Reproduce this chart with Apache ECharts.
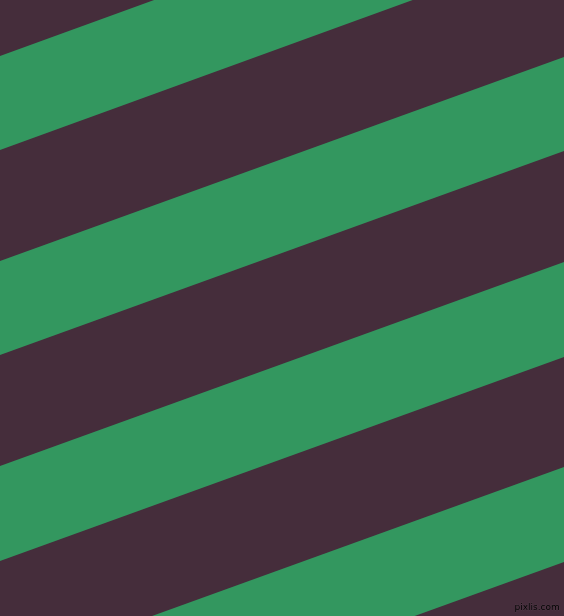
<!DOCTYPE html>
<html>
<head>
<meta charset="utf-8">
<script src="https://cdn.jsdelivr.net/npm/echarts@6/dist/echarts.min.js"></script>
<style>
html,body{margin:0;padding:0;background:#452D3B;}
#chart{width:564px;height:616px;}
</style>
</head>
<body>
<div id="chart"></div>
<script>
// Green stripes: y of each edge at the left (x=0) and right (x=564) sides
const leftTop     = [56, 261, 466, 671];
const leftBottom  = [150, 355, 561, 766];
const rightTop    = [-149, 57, 262, 467];
const rightBottom = [-55, 151, 357, 562];
const xLeft = 0, xRight = 564;
const watermark = 'pixlis.com';

const stripes = leftTop.map((v, i) => [v, leftBottom[i], rightTop[i], rightBottom[i]]);

const chart = echarts.init(document.getElementById('chart'), null, {renderer: 'canvas'});
chart.setOption({
  backgroundColor: '#452D3B',
  animation: false,
  grid: {left: 0, right: 0, top: 0, bottom: 0},
  xAxis: {type: 'value', min: 0, max: 564, show: false},
  yAxis: {type: 'value', min: 0, max: 616, inverse: true, show: false},
  graphic: [{
    type: 'text', right: 4, bottom: 4, z: 100,
    style: {text: watermark, fill: '#000', font: '9px "DejaVu Sans"', stroke: '#5a4452', lineWidth: 0.5}
  }],
  series: [{
    type: 'custom',
    coordinateSystem: 'cartesian2d',
    data: stripes,
    clip: true,
    renderItem: function (params, api) {
      const lt = api.value(0), lb = api.value(1), rt = api.value(2), rb = api.value(3);
      const pts = [
        api.coord([xLeft, lt]),
        api.coord([xRight, rt]),
        api.coord([xRight, rb]),
        api.coord([xLeft, lb])
      ];
      return {
        type: 'polygon',
        shape: {points: pts},
        style: {fill: '#33975F'}
      };
    }
  }]
});
</script>
</body>
</html>
